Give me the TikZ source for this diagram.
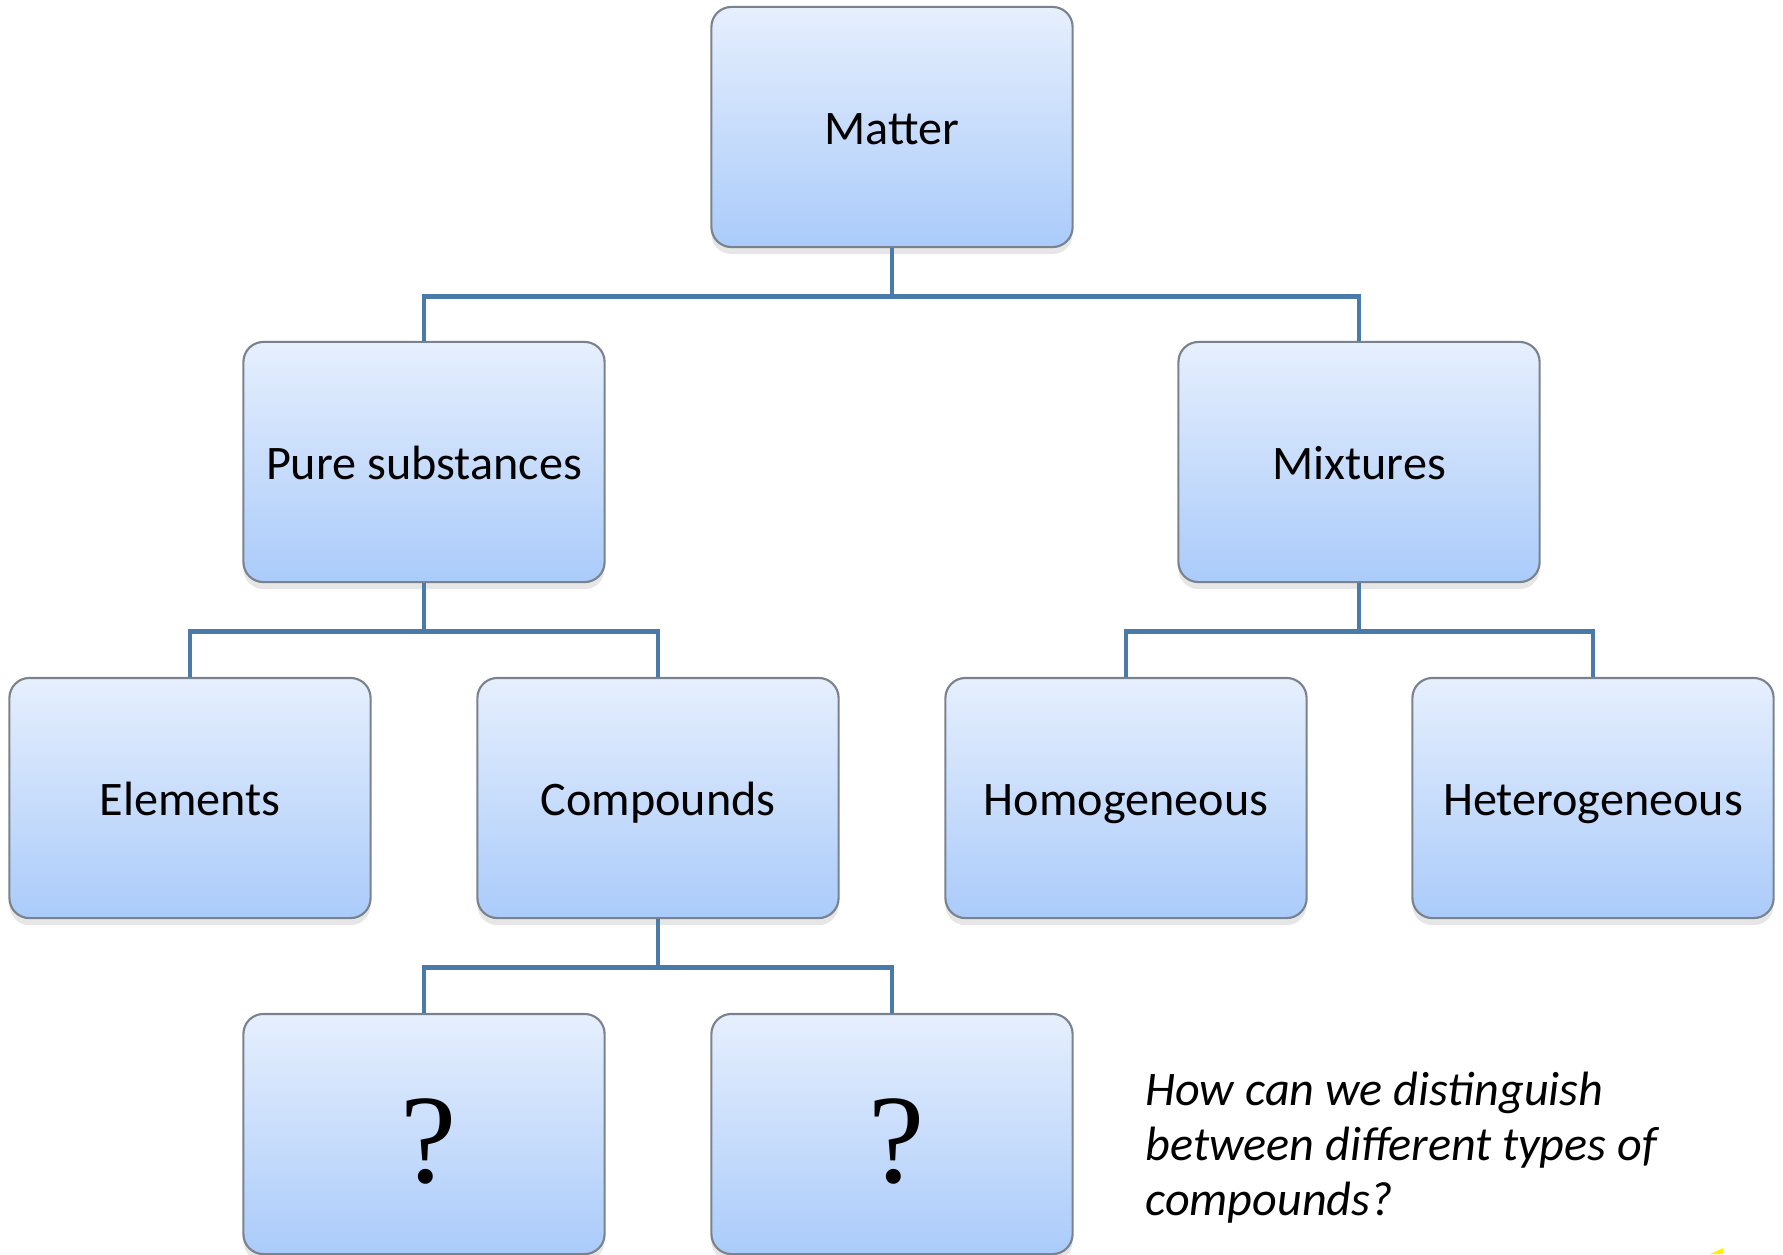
\documentclass[tikz,border=0pt]{standalone}
\usepackage{fontspec}
\setmainfont{Carlito}
\newfontfamily\qmarkfont{Liberation Serif}
\usepackage{tikz}
\usetikzlibrary{positioning,shadows}

\definecolor{boxtop}{HTML}{E6EFFD}
\definecolor{boxbot}{HTML}{AACBFA}
\definecolor{boxedge}{HTML}{7A828C}
\definecolor{linkblue}{HTML}{4A7AAA}

\begin{document}
\begin{tikzpicture}[x=0.01cm,y=-0.01cm,
    box/.style={rectangle, rounded corners=0.2cm, draw=boxedge, line width=0.6pt,
        top color=boxtop, bottom color=boxbot,
        minimum width=3.61cm, minimum height=2.40cm, inner sep=0pt,
        font=\fontsize{13.7}{16}\selectfont, text height=13.4pt, text depth=3.4pt,
        drop shadow={shadow xshift=0pt, shadow yshift=-2pt, opacity=0.2}},
    qbox/.style={box, font=\qmarkfont\fontsize{36}{40}\selectfont,
        text height=27.4pt, text depth=0pt},
    link/.style={draw=linkblue, line width=1.4pt}]
    \useasboundingbox (0,0) rectangle (1783,1254);

    % Tree of boxes
    \node[box] (matter) at (892,127) {Matter};
    \node[box] (pure) at (424,462) {Pure substances};
    \node[box] (mix) at (1359,462) {Mixtures};
    \node[box] (elem) at (190,798) {Elements};
    \node[box] (comp) at (658,798) {Compounds};
    \node[box] (homo) at (1126,798) {Homogeneous};
    \node[box] (hetero) at (1593,798) {Heterogeneous};
    \node[qbox] (qa) at (424,1134) {\kern2.8pt?};
    \node[qbox] (qb) at (892,1134) {\kern2.8pt?};

    % Elbow connectors
    \draw[link] (matter.south) -- ++(0,48) -| (pure.north);
    \draw[link] (matter.south) -- ++(0,48) -| (mix.north);
    \draw[link] (pure.south) -- ++(0,48) -| (elem.north);
    \draw[link] (pure.south) -- ++(0,48) -| (comp.north);
    \draw[link] (mix.south) -- ++(0,48) -| (homo.north);
    \draw[link] (mix.south) -- ++(0,48) -| (hetero.north);
    \draw[link] (comp.south) -- ++(0,48) -| (qa.north);
    \draw[link] (comp.south) -- ++(0,48) -| (qb.north);

    \node[font=\fontsize{13.7}{15.6}\selectfont\itshape, align=left, anchor=base west]
        (question) at (1133,1215) {How can we distinguish\\between different types of\\compounds?};

    \fill[yellow] (1710,1254) -- (1723,1248) -- (1723,1254) -- cycle;
\end{tikzpicture}
\end{document}
